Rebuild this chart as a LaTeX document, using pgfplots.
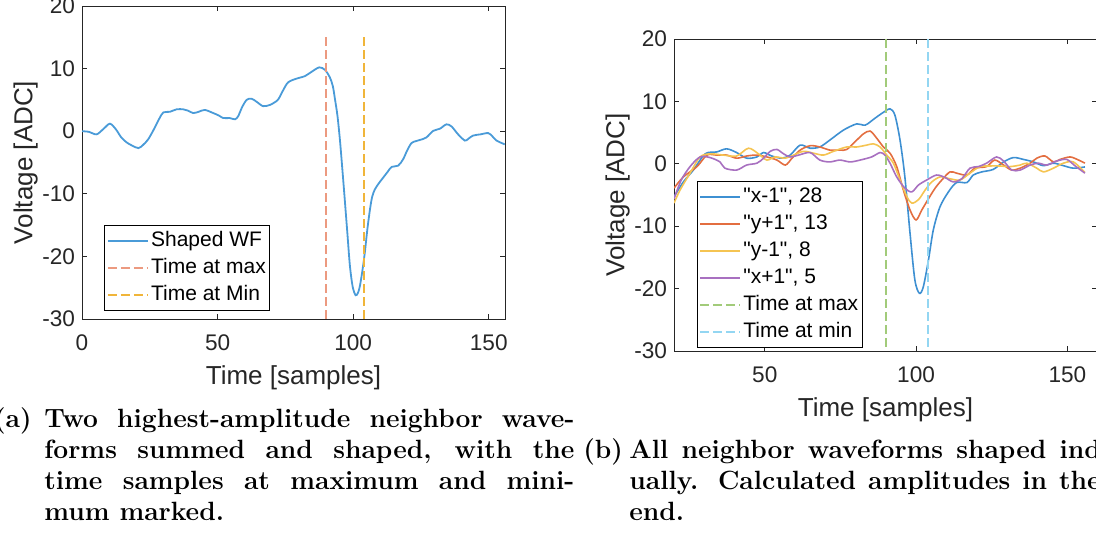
\documentclass[border=0pt]{standalone}
\usepackage{pgfplots}
\pgfplotsset{compat=1.18}
\usepackage{fontspec}
\newfontfamily\arial{Liberation Sans}
\definecolor{lblueA}{HTML}{4A9BD8}
\definecolor{lredA}{HTML}{EC9A80}
\definecolor{lyelA}{HTML}{F0B53A}
\definecolor{cblue}{HTML}{3E90D2}
\definecolor{cred}{RGB}{227,110,64}
\definecolor{cyellow}{HTML}{F5C452}
\definecolor{cpurple}{HTML}{A870C0}
\definecolor{cgreen}{HTML}{A2CB7A}
\definecolor{ccyan}{HTML}{93D6F2}
\pgfplotsset{mstyle/.style={
  scale only axis, width=211.5pt,
  axis line style={black!85, line width=0.5pt},
  tick align=inside, tick pos=both, major tick length=2.5pt,
  tick style={black!85, line width=0.5pt},
  ticklabel style={font=\arial\fontsize{11.3}{13}\selectfont, text=black!85},
  xticklabel style={yshift=-4.5pt},
  label style={font=\arial\fontsize{13}{15}\selectfont, text=black!85},
  ymin=-30, ymax=20, ytick={-30,-20,-10,0,10,20}, yticklabels={-30,-20,-10,0,10,20},
  xlabel={Time [samples]}, ylabel={Voltage [ADC]},
  xlabel style={at={(axis description cs:0.5,-0.187)}, anchor=center},
  ylabel style={at={(axis description cs:-0.133,0.5)}, anchor=center},
  legend cell align=left,
  legend style={font=\arial\fontsize{10.5}{12}\selectfont, draw=black, fill=white,
    inner xsep=1pt, inner ysep=1.75pt, row sep=1.7pt,
    nodes={inner sep=1pt, text height=7.6pt, text depth=2.2pt}, anchor=north west},
  legend image code/.code={\draw[##1] (0pt,0pt) -- (20pt,0pt);},
}}
\begin{document}
\begin{tikzpicture}
\useasboundingbox (0,0) rectangle (548pt,-267.5pt);
\clip (0,0) rectangle (548pt,-267.5pt);
% ---------- (a) ----------
\begin{axis}[mstyle, at={(41pt,-159.5pt)}, anchor=south west, height=156.5pt,
  xmin=0, xmax=156, xtick={0,50,100,150}, xticklabels={0,50,100,150},
  legend style={at={(0.0527,0.3003)}}]
\addlegendimage{draw=lblueA, line width=1.1pt}
\addlegendentry{Shaped WF}
\addlegendimage{draw=lredA, line width=1.2pt, dash pattern=on 4.5pt off 2pt}
\addlegendentry{Time at max}
\addlegendimage{draw=lyelA, line width=1.1pt, dash pattern=on 4.5pt off 2pt}
\addlegendentry{Time at Min}
\addplot[forget plot, lblueA, line width=0.9pt, smooth, tension=0.5] coordinates {
(0,0) (2.5,-0.1) (5.4,-0.5) (8,0.4) (10.3,1.2) (12.5,0.3) (14.5,-1.0) (16.5,-1.8) (18.5,-2.3) (20.8,-2.7) (22.5,-2.2) (24.4,-1.3) (26.5,0.3) (28.5,2.0) (30,3.0) (32.4,3.1) (34.9,3.5) (37.3,3.5) (39,3.3) (41,2.9) (43,3.1) (45.3,3.4) (48.4,2.9) (50.5,2.5) (52.1,2.1) (54.5,2.1) (56.4,1.9) (57.6,2.4) (59,3.8) (60.7,5.0) (62.5,5.2) (64.4,4.7) (66.8,4.0) (69.3,4.2) (71,4.6) (72.4,5.1) (74,6.4) (76,7.8) (79.1,8.4) (82.2,8.8) (84.7,9.5) (87.5,10.2) (89.6,9.8) (91.4,8.6) (92.5,7.2) (93.3,5.1) (94.2,2.5) (95.1,-1.3) (96,-6) (96.9,-10.9) (97.9,-16.5) (98.8,-21.5) (99.8,-24.8) (100.9,-26.2) (101.8,-25.8) (102.5,-24.7) (103.4,-22.3) (104.3,-19.4) (105.2,-15.8) (106.2,-12.5) (107,-10.5) (108,-9.3) (109.5,-8.3) (111.1,-7.4) (112.7,-6.5) (114.2,-5.7) (116.6,-5.5) (118.4,-4.5) (120,-3.0) (121.5,-1.9) (123,-1.6) (124.6,-1.4) (127,-1.0) (129.5,0.05) (132,0.4) (134.4,1.1) (136.3,0.75) (138.7,-0.5) (141.2,-1.5) (142.5,-1.2) (144.2,-0.7) (147,-0.5) (149.8,-0.3) (151.3,-0.8) (152.9,-1.5) (155.9,-2.1)};
\addplot[forget plot, lredA, line width=1.2pt, dash pattern=on 4.5pt off 2pt] coordinates {(90,15) (90,-30)};
\addplot[forget plot, lyelA, line width=0.9pt, dash pattern=on 4.5pt off 2pt] coordinates {(104,15) (104,-30)};
\end{axis}
% ---------- (b) ----------
\begin{axis}[mstyle, at={(337pt,-175.5pt)}, anchor=south west, height=156pt,
  xmin=20, xmax=159.8, xtick={50,100,150}, xticklabels={50,100,150},
  legend style={at={(0.0537,0.5449)}}]
\addlegendimage{draw=cblue, line width=1.1pt}
\addlegendentry{"x-1", 28}
\addlegendimage{draw=cred, line width=1.1pt}
\addlegendentry{"y+1", 13}
\addlegendimage{draw=cyellow, line width=1.1pt}
\addlegendentry{"y-1", 8}
\addlegendimage{draw=cpurple, line width=1.1pt}
\addlegendentry{"x+1", 5}
\addlegendimage{draw=cgreen, line width=1.1pt, dash pattern=on 4.5pt off 2pt}
\addlegendentry{Time at max}
\addlegendimage{draw=ccyan, line width=1.1pt, dash pattern=on 4.5pt off 2pt}
\addlegendentry{Time at min}
\addplot[forget plot, cblue, line width=0.8pt, smooth, tension=0.5] coordinates {
(20,-5.3) (23.1,-2.9) (26.4,-1.0) (30.3,1.6) (34.1,1.9) (37.4,2.4) (40.7,1.8) (44,0.9) (47.4,1.1) (49.6,1.8) (52.3,1.25) (55.6,0.9) (58.4,1.4) (61.7,3.0) (65,2.5) (68.2,2.7) (71.5,3.8) (76,5.4) (80.4,6.4) (83.2,6.2) (86.4,7.3) (89.2,8.25) (91.4,8.8) (93,7.8) (94.7,3.8) (96.3,-2.1) (98,-11.1) (99.6,-18.6) (101.1,-20.75) (102.4,-19.7) (104.1,-15.4) (105.7,-10.6) (107.9,-6.9) (110.7,-4.5) (113.4,-3.0) (116.8,-3.0) (118.9,-1.8) (121.7,-1.3) (125.5,-0.9) (128.9,0.3) (132.2,1.0) (135.5,0.7) (138.8,0.3) (142.1,-0.3) (145.4,0.1) (148.7,-0.3) (152,-0.7) (155.8,-0.5)};
\addplot[forget plot, cred, line width=0.8pt, smooth, tension=0.5] coordinates {
(20,-3.9) (23.1,-2.1) (27.6,-0.45) (30.9,1.4) (34.1,1.4) (37.4,1.4) (40.7,0.9) (44,1.25) (47.4,1.4) (50.7,1.1) (54,0.6) (56.8,-0.2) (59,0.9) (61.7,2.2) (65,2.9) (68.2,2.7) (71.5,2.2) (74.8,2.2) (77.1,2.3) (80.4,3.8) (82.6,4.8) (84.8,5.25) (87,4.1) (89.2,2.7) (91.4,1.7) (93.6,-0.45) (95.8,-4.2) (98,-7.4) (100,-9.0) (101.9,-7.4) (104.1,-5.6) (106.3,-3.9) (108.5,-2.6) (111.2,-1.3) (113.4,-1.5) (116.8,-1.8) (119.4,-0.7) (123.3,-0.45) (126,0.6) (128.9,-0.2) (131.6,-1.0) (134.4,-0.7) (137.7,0.1) (139.9,0.9) (142.6,1.25) (145.4,0.3) (147.6,0.7) (150.9,1.1) (153.7,0.6) (155.8,0.1)};
\addplot[forget plot, cyellow, line width=0.8pt, smooth, tension=0.5] coordinates {
(20,-6.3) (22,-4.2) (25.3,-1.5) (28.6,1.1) (31.9,1.6) (36.3,1.4) (40.7,1.25) (44.6,2.5) (47.9,1.6) (50.7,0.6) (53.4,1.1) (56.8,0.9) (59.5,1.4) (62.8,2.0) (66.1,1.7) (69.4,1.4) (72.7,2.0) (77.1,2.7) (80.4,2.7) (83.7,3.0) (85.9,3.2) (88.1,2.7) (90.3,1.4) (92.5,0.1) (94.7,-2.6) (97,-5.3) (98.6,-6.3) (100.8,-5.75) (103,-4.2) (105.2,-2.9) (108,-2.1) (111.2,-2.4) (114.5,-2.6) (117.8,-1.5) (121.1,-0.45) (124.4,-0.35) (127.7,-0.35) (131,-0.45) (134.4,-0.2) (136.6,0.1) (139.9,-0.7) (142.1,-1.3) (145.4,-0.7) (148.7,0.1) (152,0.3) (155.8,-1.4)};
\addplot[forget plot, cpurple, line width=0.8pt, smooth, tension=0.5] coordinates {
(20,-5.6) (22.4,-2.6) (25.3,-0.45) (28.6,1.1) (31.9,1.0) (35.2,0.3) (36.8,-0.7) (40.7,-1.0) (44,-0.2) (47.4,0.1) (49.6,0.9) (51.8,2.0) (54,2.3) (56.2,1.6) (58.4,1.1) (61.2,1.4) (65,1.8) (68.2,0.6) (71.5,0.3) (74.8,0.6) (78.2,0.3) (81.5,0.6) (85.3,1.1) (88.1,1.8) (89.7,1.4) (91.4,0.1) (93.6,-2.1) (96.3,-3.9) (98.6,-4.5) (100.8,-3.4) (103.5,-2.6) (106.8,-1.8) (109.6,-2.2) (112.3,-2.9) (115.1,-2.4) (117.8,-0.7) (120.6,-0.45) (123.3,0.1) (126.6,1.1) (128.9,0.45) (131.6,-1.0) (134.4,-1.0) (137.7,-0.2) (140.4,0.1) (143.2,-0.2) (146.5,0.45) (149.8,0.7) (152.6,-0.35) (155.8,-1.5)};
\addplot[forget plot, cgreen, line width=1pt, dash pattern=on 4.5pt off 2pt] coordinates {(90,20) (90,-30)};
\addplot[forget plot, ccyan, line width=1.1pt, dash pattern=on 4.5pt off 2pt] coordinates {(104,20) (104,-30)};
\end{axis}
% ---------- captions ----------
\begin{scope}[every node/.style={inner sep=0pt, font=\fontsize{13.2}{15.6}\selectfont\bfseries}]
\node[anchor=base east] at (16pt,-213.5pt) {(a)};
\node[anchor=base west] at (22pt,-213.5pt) {\hbox to 265pt{Two highest-amplitude neighbor wave-}};
\node[anchor=base west] at (22pt,-229pt) {\hbox to 265pt{forms summed and shaped, with the}};
\node[anchor=base west] at (22pt,-244.5pt) {\hbox to 265pt{time samples at maximum and mini-}};
\node[anchor=base west] at (22pt,-260pt) {mum marked.};
\node[anchor=base west] at (291.5pt,-229pt) {(b)};
\node[anchor=base west] at (314.5pt,-229pt) {\hbox to 265pt{All neighbor waveforms shaped individ-}};
\node[anchor=base west] at (314.5pt,-244.5pt) {\hbox to 265pt{ually. Calculated amplitudes in the leg-}};
\node[anchor=base west] at (314.5pt,-260pt) {end.};
\end{scope}
\end{tikzpicture}
\end{document}
